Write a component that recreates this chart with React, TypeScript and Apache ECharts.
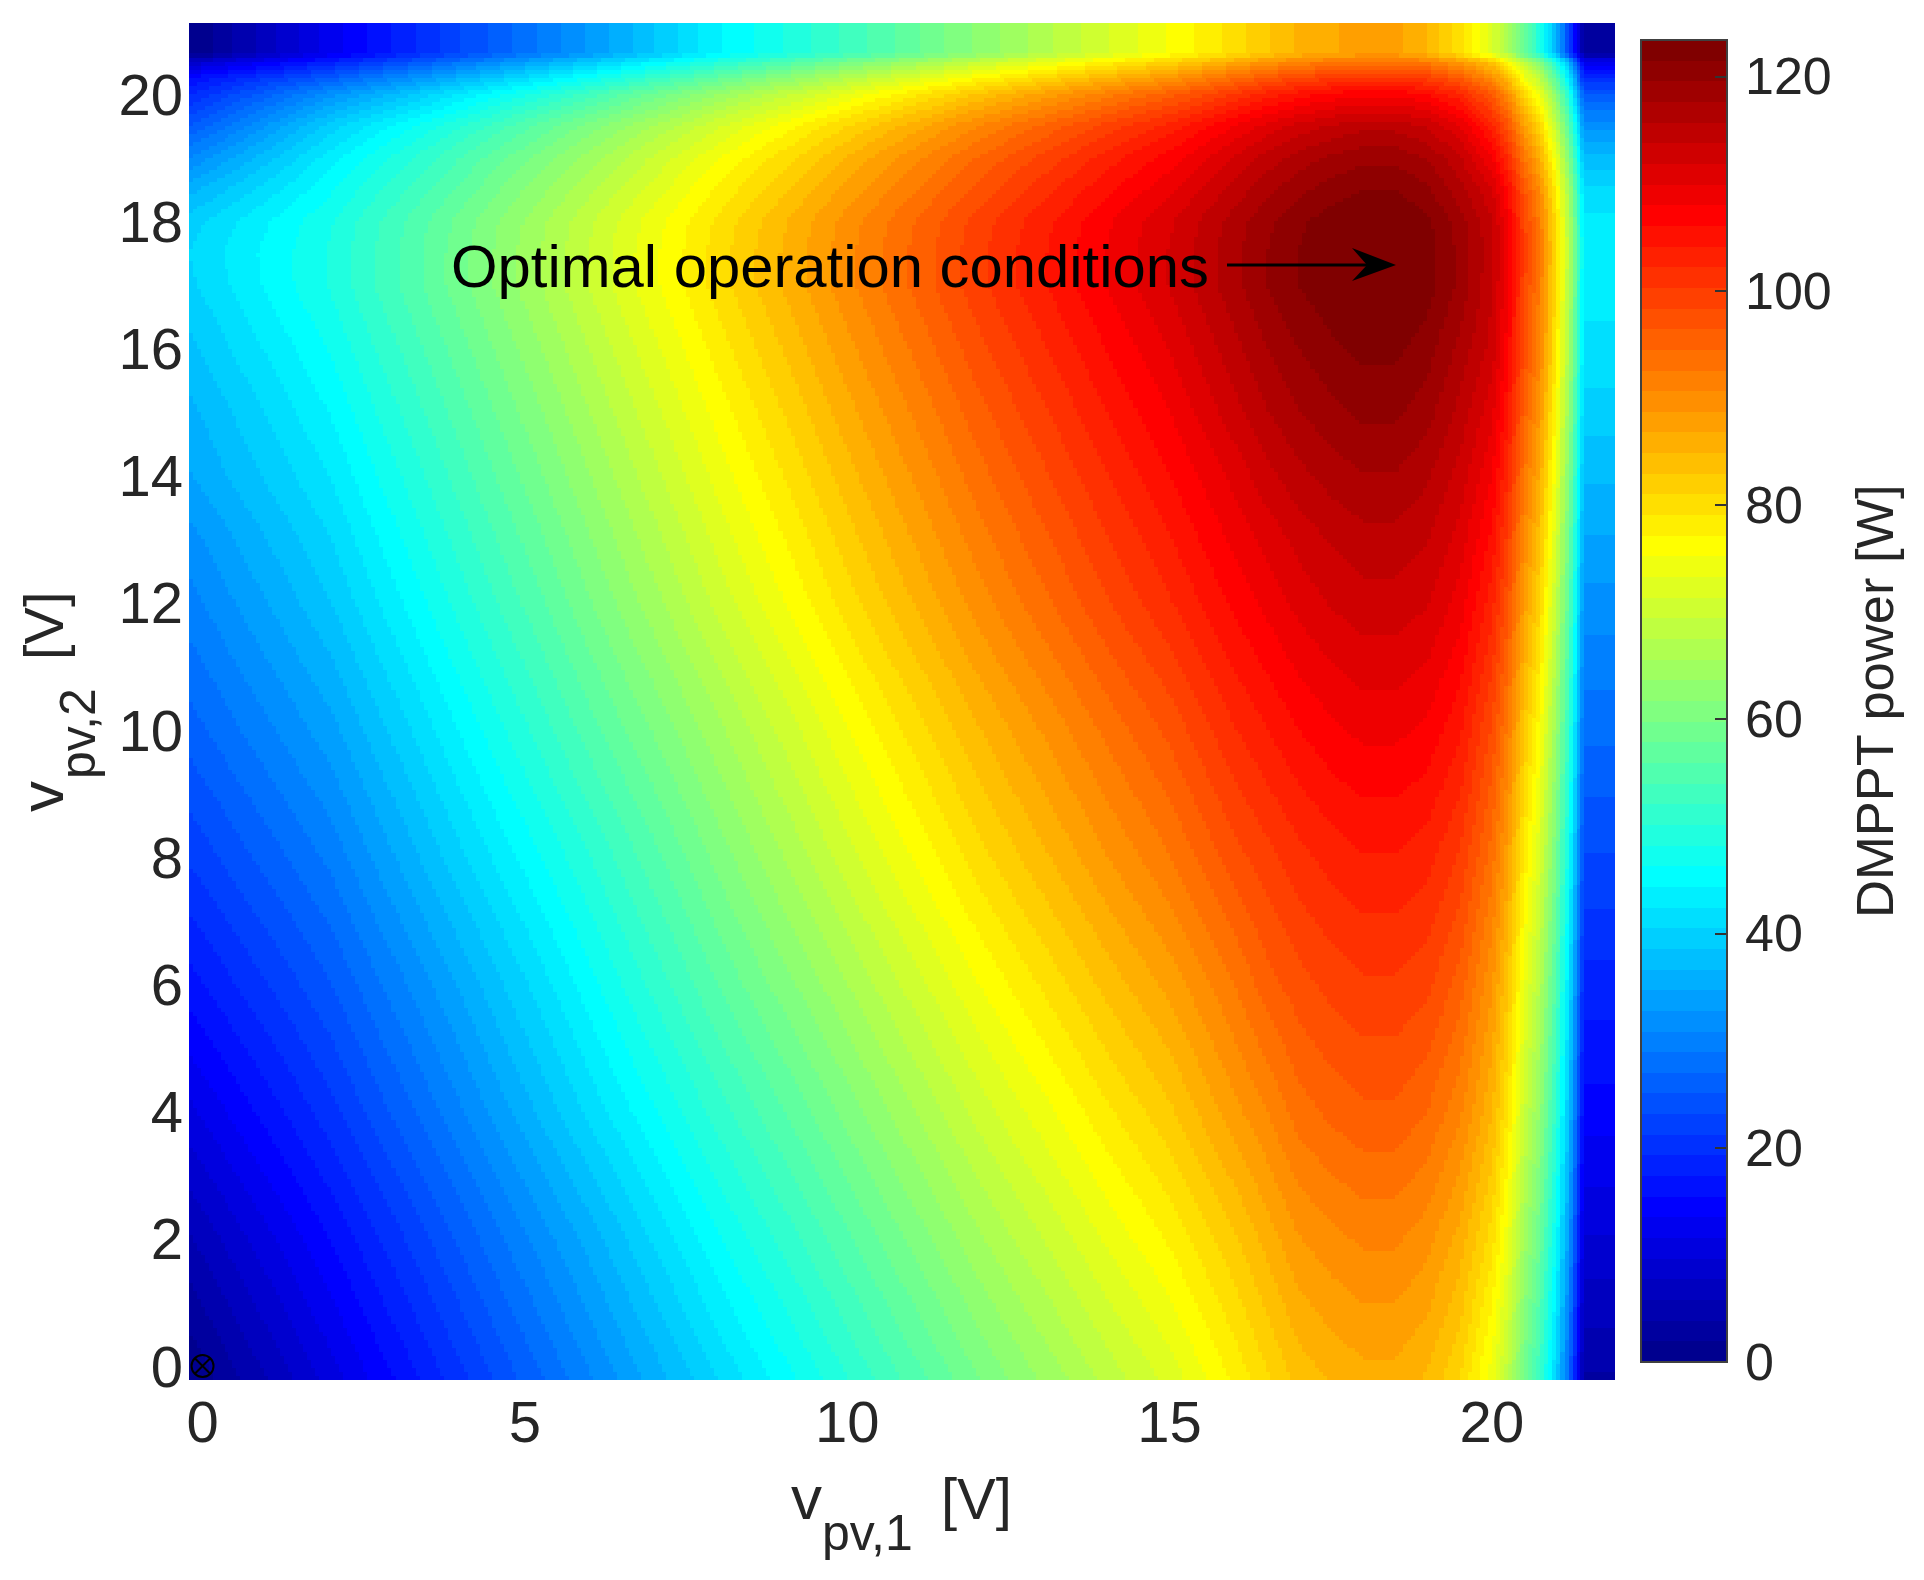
import React, { useEffect, useRef } from "react";
import * as echarts from "echarts";

// Sample positions (V) and DMPPT power (W), estimated by eye from the reference.
const v1Samples = [-0.21, 2, 4, 6, 8, 10, 12, 14, 15, 16, 16.5, 17, 17.5, 18, 18.5, 19, 19.5, 20, 20.25, 20.5, 20.75, 21, 21.2, 21.43, 21.91];
const v2Samples = [-0.22, 2, 4, 6, 8, 10, 12, 13, 14, 15, 16, 17, 17.5, 18, 18.5, 19, 19.5, 20, 20.25, 20.5, 20.65, 21.12];
const powerW = [
  [0, 10.5, 20.5, 30.5, 40.5, 50, 59.5, 68, 72, 77.5, 80.5, 83.5, 85, 86, 86, 84.5, 81, 74, 68, 59, 52, 40, 27, 3.5, 3.5],
  [5.5, 15.5, 25.5, 35.5, 46, 55.5, 65, 73.5, 77.5, 82.5, 85.5, 88.5, 90, 91, 91, 89.5, 86, 80, 74, 65, 58, 46, 33, 9.5, 9.5],
  [11, 20.5, 30.5, 41, 51, 60.5, 70, 78.5, 82.5, 88, 90.5, 93.5, 95, 96, 96, 94.5, 91, 85, 79, 70, 63, 51, 38, 14.5, 14.5],
  [16.5, 25, 35, 45.5, 56, 65.5, 75, 83.5, 87.5, 92.5, 95.5, 97.5, 99, 100, 100, 99, 95.5, 89, 83, 74, 67, 55, 42, 18.5, 18.5],
  [21.5, 29.5, 40, 50, 60.5, 70.5, 80, 88.5, 92.5, 97.5, 99.5, 101.5, 103, 104, 104, 103, 100, 93.5, 87.5, 78.5, 71.5, 59.5, 46.5, 23, 23],
  [26, 34, 44.5, 55, 65, 75, 84.5, 93, 97, 102, 104, 106, 107.5, 108.5, 108.5, 107.5, 104.5, 98, 92, 83, 76, 64, 51, 27.5, 27.5],
  [30, 38.5, 49, 59.5, 70, 80, 89.5, 98, 102, 106.5, 108.5, 110.5, 112, 113, 113, 112, 109, 103, 97, 88, 81, 69, 56, 32, 32],
  [32, 40.5, 51, 61.5, 72, 82, 91.5, 100, 104, 108.5, 110.5, 112.5, 114, 115, 115, 114, 111, 105.5, 99.5, 90.5, 83.5, 71.5, 58.5, 34.5, 34.5],
  [34.5, 42.5, 53, 63.5, 74, 84, 93.5, 102, 106, 110.5, 113, 115, 116.5, 117.5, 117.5, 116, 113, 108, 102, 93, 86, 74, 61, 37, 37],
  [36, 44.5, 55, 65.5, 76, 86, 95.5, 104, 108, 113, 115.5, 117.5, 119, 120, 120, 118.5, 115, 110.5, 104.5, 95.5, 88.5, 76.5, 63.5, 39.5, 39.5],
  [38, 46.5, 57, 67.5, 78, 88, 97.5, 106, 110, 115, 117.5, 119.5, 121, 122, 122, 120.5, 117, 113, 107, 98, 91, 79, 66, 42, 42],
  [40, 48.5, 59, 69.5, 80, 90, 99.5, 108, 112, 117, 119.5, 121.5, 123, 123.4, 123.4, 122.5, 119, 114, 108, 99, 92, 80, 67, 43, 43],
  [40.5, 48.5, 59, 69.5, 80, 90, 99.5, 108, 112, 117, 119.5, 121.5, 123, 123.4, 123.4, 122.5, 119, 114.5, 108.5, 99.5, 92.5, 80.5, 67.5, 43.5, 43.5],
  [39.5, 48, 58.5, 69, 79.5, 89.5, 99, 107.5, 111.5, 116.5, 119, 121, 122.5, 123.4, 123.4, 122, 118.5, 114, 108, 99, 92, 80, 67, 43, 43],
  [36, 46, 56.5, 67, 77.5, 87.5, 97, 105.5, 109.5, 114.5, 117, 119, 120.5, 121.5, 121.5, 120, 116.5, 112, 106, 97, 90, 78, 65, 41, 41],
  [31, 43.5, 54, 64.5, 75, 85, 94.5, 103, 107, 112, 114.5, 116.5, 118, 119, 119, 117.5, 114, 108, 102, 93, 86, 74, 61, 37, 37],
  [25, 39.5, 50, 60.5, 71, 81, 90.5, 99, 103, 108, 110.5, 112.5, 114, 115, 115, 113.5, 110, 103, 97, 88, 81, 69, 56, 32, 32],
  [19, 32, 42.5, 53, 63.5, 73.5, 83, 91.5, 95.5, 100.5, 103, 105, 106.5, 107.5, 107.5, 106, 102.5, 96, 90, 81, 74, 62, 49, 25, 25],
  [15.5, 25.5, 36, 46.5, 57, 67, 76.5, 85, 89, 94, 96.5, 98.5, 100, 101, 101, 99.5, 96, 90, 84, 75, 68, 56, 43, 19, 19],
  [8, 18, 28.5, 39, 49.5, 59.5, 69, 77.5, 81.5, 86.5, 89, 91, 92.5, 93.5, 93.5, 92, 88.5, 83, 77, 68, 61, 49, 36, 12, 12],
  [0, 12.5, 23, 33, 44, 52.5, 62, 71, 75.5, 80, 82.5, 85, 86.5, 87.5, 87.5, 85, 80, 72, 66, 58, 49, 36, 22, 3, 3],
  [0, 12.5, 23, 33, 44, 52.5, 62, 71, 75.5, 80, 82.5, 85, 86.5, 87.5, 87.5, 85, 80, 72, 66, 58, 49, 36, 22, 3, 3],
];
const xTickValues = [0, 5, 10, 15, 20];
const yTickValues = [0, 2, 4, 6, 8, 10, 12, 14, 16, 18, 20];
const colorbarTicks = [0, 20, 40, 60, 80, 100, 120];
const powerMin = 0;
const powerMax = 123.4;
const markerPoint = [[0, 0]];
const annotationText = "Optimal operation conditions";
const colorbarTitle = "DMPPT power [W]";

const FONT = '"Liberation Sans", Helvetica, Arial, sans-serif';
const INK = "#262626";
const LEVELS = 64;
const STEP = 4;

const clamp01 = (n: number) => Math.max(0, Math.min(1, n));
const jet = (level: number) => {
  const t = level / LEVELS;
  const c = (k: number) => Math.round(255 * clamp01(1.5 - Math.abs(4 * t - k)));
  return `rgb(${c(3)},${c(2)},${c(1)})`;
};
const levelOf = (v: number) =>
  Math.min(LEVELS, Math.floor(((v - powerMin) / (powerMax - powerMin)) * LEVELS) + 1);

// One item per pair of neighbouring samples; the renderer shades between the
// four corner readings, as the reference's interpolated shading does.
const cellData: number[][] = [];
for (let r = 0; r < v2Samples.length - 1; r++) {
  for (let c = 0; c < v1Samples.length - 1; c++) {
    cellData.push([
      v1Samples[c], v2Samples[r], v1Samples[c + 1], v2Samples[r + 1],
      powerW[r][c], powerW[r][c + 1], powerW[r + 1][c], powerW[r + 1][c + 1],
    ]);
  }
}
const colorbarData: number[][] = [];
for (let l = 1; l <= LEVELS; l++) {
  colorbarData.push([
    powerMin + ((l - 1) / LEVELS) * (powerMax - powerMin),
    powerMin + (l / LEVELS) * (powerMax - powerMin),
    l,
  ]);
}

const renderCell = (_: any, api: any) => {
  const a = api.coord([api.value(0), api.value(1)]);
  const b = api.coord([api.value(2), api.value(3)]);
  const v00 = api.value(4), v10 = api.value(5), v01 = api.value(6), v11 = api.value(7);
  const left = Math.round(a[0]), right = Math.round(b[0]);
  const top = Math.round(b[1]), bottom = Math.round(a[1]);
  const w = right - left, h = bottom - top;
  const nx = Math.max(1, Math.round(w / STEP));
  const ny = Math.max(1, Math.round(h / STEP));
  const paths: Record<number, string[]> = {};
  for (let j = 0; j < ny; j++) {
    const y0 = top + Math.round((j * h) / ny);
    const y1 = top + Math.round(((j + 1) * h) / ny);
    const t = 1 - (j + 0.5) / ny;
    let runStart = left;
    let runLevel = -1;
    for (let i = 0; i <= nx; i++) {
      let lvl = -2;
      if (i < nx) {
        const u = (i + 0.5) / nx;
        lvl = levelOf((1 - u) * (1 - t) * v00 + u * (1 - t) * v10 + (1 - u) * t * v01 + u * t * v11);
      }
      if (lvl !== runLevel) {
        const x = left + Math.round((i * w) / nx);
        if (runLevel > 0) {
          (paths[runLevel] = paths[runLevel] || []).push(
            `M${runStart} ${y0}L${x} ${y0}L${x} ${y1}L${runStart} ${y1}Z`
          );
        }
        runStart = x;
        runLevel = lvl;
      }
    }
  }
  return {
    type: "group",
    children: Object.keys(paths).map((k) => ({
      type: "path",
      shape: { pathData: paths[+k].join("") },
      style: { fill: jet(+k), stroke: "none" },
    })),
  };
};

const renderBand = (_: any, api: any) => {
  const a = api.coord([0, api.value(0)]);
  const b = api.coord([1, api.value(1)]);
  const top = Math.round(b[1]), bottom = Math.round(a[1]);
  return {
    type: "rect",
    shape: { x: a[0], y: top, width: b[0] - a[0], height: bottom - top },
    style: { fill: jet(api.value(2)), stroke: "none" },
  };
};

// Positions one line of text by its baseline; rot is in radians.
const label = (text: string, x: number, baseline: number, size: number, fill = INK, rot = 0) => {
  const off = 0.3465 * size;
  return {
    type: "text",
    x: rot ? x - off : x,
    y: rot ? baseline : baseline - off,
    rotation: rot,
    z: 20,
    style: {
      text, fill, fontSize: size, fontFamily: FONT,
      align: "left", textAlign: "left", verticalAlign: "middle", textVerticalAlign: "middle",
    },
  };
};

export default function App() {
  const ref = useRef<HTMLDivElement>(null);
  useEffect(() => {
    const chart = echarts.init(ref.current!, undefined, { renderer: "svg" });
    const ROT = Math.PI / 2;
    chart.setOption({
      animation: false,
      backgroundColor: "#ffffff",
      grid: [
        { left: 189, top: 23, width: 1426, height: 1357, show: false },
        { left: 1641, top: 40, width: 86, height: 1322, show: false },
      ],
      xAxis: [
        {
          type: "value", gridIndex: 0, min: v1Samples[0], max: v1Samples[v1Samples.length - 1],
          splitLine: { show: false }, axisLine: { show: false }, axisTick: { show: false },
          axisLabel: { customValues: xTickValues, fontSize: 58, fontFamily: FONT, color: INK, margin: 12 },
        },
        {
          type: "value", gridIndex: 1, min: 0, max: 1, show: false,
        },
      ],
      yAxis: [
        {
          type: "value", gridIndex: 0, min: v2Samples[0], max: v2Samples[v2Samples.length - 1],
          splitLine: { show: false }, axisLine: { show: false }, axisTick: { show: false },
          axisLabel: { customValues: yTickValues, fontSize: 58, fontFamily: FONT, color: INK, margin: 6 },
        },
        {
          type: "value", gridIndex: 1, position: "right", min: powerMin, max: powerMax, z: 10,
          splitLine: { show: false },
          axisLine: { show: false, onZero: false },
          axisTick: {
            show: true, inside: true, length: 12, customValues: colorbarTicks,
            lineStyle: { color: "#333333", width: 2 },
          },
          axisLabel: { customValues: colorbarTicks, fontSize: 52, fontFamily: FONT, color: INK, margin: 18 },
        },
      ],
      series: [
        {
          type: "custom", xAxisIndex: 0, yAxisIndex: 0, data: cellData, renderItem: renderCell,
          clip: false, silent: true,
        },
        {
          type: "scatter", xAxisIndex: 0, yAxisIndex: 0, data: markerPoint, z: 5, silent: true,
          symbol: "path://M0 -10A10 10 0 1 1 0 10A10 10 0 1 1 0 -10ZM-7 -7L7 7M-7 7L7 -7",
          symbolSize: 22,
          itemStyle: { color: "none", borderColor: "#000000", borderWidth: 2, opacity: 1 },
        },
        {
          type: "custom", xAxisIndex: 1, yAxisIndex: 1, data: colorbarData, renderItem: renderBand,
          clip: false, silent: true,
        },
      ],
      graphic: [
        { type: "rect", z: 15, shape: { x: 1641, y: 40, width: 86, height: 1322 }, style: { fill: "none", stroke: "#404040", lineWidth: 2 } },
        label("v", 791, 1519, 62),
        label("pv,1", 822, 1550, 50),
        label("[V]", 941, 1519, 58),
        label("v", 63, 812, 62, INK, ROT),
        label("pv,2", 95, 779, 50, INK, ROT),
        label("[V]", 63, 660, 56, INK, ROT),
        label(colorbarTitle, 1893, 918, 52.5, INK, ROT),
        label(annotationText, 451, 287, 59.8, "#000000"),
        { type: "line", z: 20, shape: { x1: 1227, y1: 265, x2: 1372, y2: 265 }, style: { stroke: "#000000", lineWidth: 3 } },
        { type: "polygon", z: 20, shape: { points: [[1396, 265], [1352, 248], [1367, 265], [1352, 281]] }, style: { fill: "#000000" } },
      ],
    });
    return () => chart.dispose();
  }, []);
  return <div ref={ref} style={{ position: "absolute", left: 0, top: 0, width: 1924, height: 1580 }} />;
}
